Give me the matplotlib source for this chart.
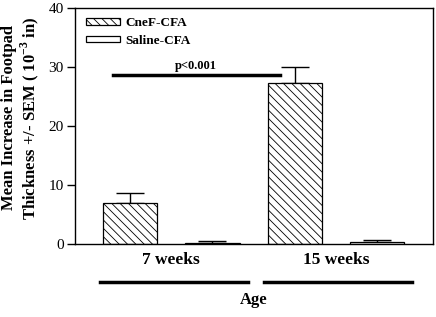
import numpy as np
import matplotlib
matplotlib.use("Agg")
import matplotlib.pyplot as plt
from matplotlib.patches import Patch
from matplotlib.transforms import blended_transform_factory

# data (units: 10^-3 in)
ages = ["7 weeks", "15 weeks"]
series = ["CneF-CFA", "Saline-CFA"]
cnef_mean = [6.9, 27.3]
cnef_sem = [1.75, 2.75]
saline_mean = [0.1, 0.4]
saline_sem = [0.45, 0.25]
p_label = "p<0.001"
sig_level = 28.6

plt.rcParams["font.family"] = ["Liberation Serif", "DejaVu Serif"]
plt.rcParams["mathtext.fontset"] = "custom"
plt.rcParams["mathtext.bf"] = "Liberation Serif:bold"
plt.rcParams["mathtext.rm"] = "Liberation Serif:bold"
plt.rcParams["hatch.linewidth"] = 0.6

fig = plt.figure(figsize=(4.36, 3.17), dpi=100)
ax = fig.add_axes([0.172, 0.230, 0.821, 0.745])

width = 0.66
pos_cnef = np.array([0, 2])
pos_sal = pos_cnef + 1
centers = (pos_cnef + pos_sal) / 2

ax.bar(pos_cnef, cnef_mean, width, color="white", edgecolor="black",
       hatch="\\\\\\\\", linewidth=0.9, zorder=2)
ax.bar(pos_sal, saline_mean, width, color="white", edgecolor="black",
       linewidth=0.9, zorder=2)
ax.errorbar(pos_cnef, cnef_mean, yerr=[np.zeros(2), cnef_sem], fmt="none",
            ecolor="black", elinewidth=1, capsize=10, capthick=1, zorder=1)
ax.errorbar(pos_sal, saline_mean, yerr=[np.zeros(2), saline_sem], fmt="none",
            ecolor="black", elinewidth=1, capsize=10, capthick=1, zorder=1)

# significance bar between the CneF groups
x0, x1 = pos_cnef[0] - 0.21, pos_cnef[1] - 0.18
ax.plot([x0, x1], [sig_level, sig_level], color="black", lw=2.5, zorder=3)
ax.text((x0 + x1) / 2, sig_level + 0.6, p_label, ha="center", va="bottom",
        fontsize=9, fontweight="bold")

ax.set_xlim(-0.67, 3.68)
ax.set_ylim(0, 40)
ax.set_yticks([0, 10, 20, 30, 40])
ax.set_xticks(centers)
ax.set_xticklabels(ages, fontsize=12.5, fontweight="bold")
ax.tick_params(axis="x", length=0, pad=6)
ax.tick_params(axis="y", direction="out", length=6, width=1, labelsize=11, pad=2)
for s in ax.spines.values():
    s.set_linewidth(1)

# group underlines below the tick labels
trans = blended_transform_factory(ax.transData, ax.transAxes)
for c in centers:
    ax.plot([c - 0.87, c + 0.93], [-0.161, -0.161], color="black", lw=2.5,
            transform=trans, clip_on=False)

ax.set_xlabel("Age", fontsize=12, fontweight="bold", labelpad=17)
ax.set_ylabel("Mean Increase in Footpad\nThickness +/- SEM ( 10$^{\\mathbf{-3}}$ in)",
              fontsize=12, fontweight="bold", linespacing=1.1)
ax.yaxis.set_label_coords(-0.095, 0.534)

handles = [Patch(facecolor="white", edgecolor="black", hatch="\\\\\\\\", linewidth=0.9),
           Patch(facecolor="white", edgecolor="black", linewidth=0.9)]
ax.legend(handles, series, loc="upper left", frameon=False,
          prop={"weight": "bold", "size": 9.5}, handlelength=2.6, handleheight=0.35,
          handletextpad=0.4, labelspacing=0.45, borderaxespad=0.3,
          bbox_to_anchor=(0.005, 1.0))

fig.savefig("out.png", dpi=100)
